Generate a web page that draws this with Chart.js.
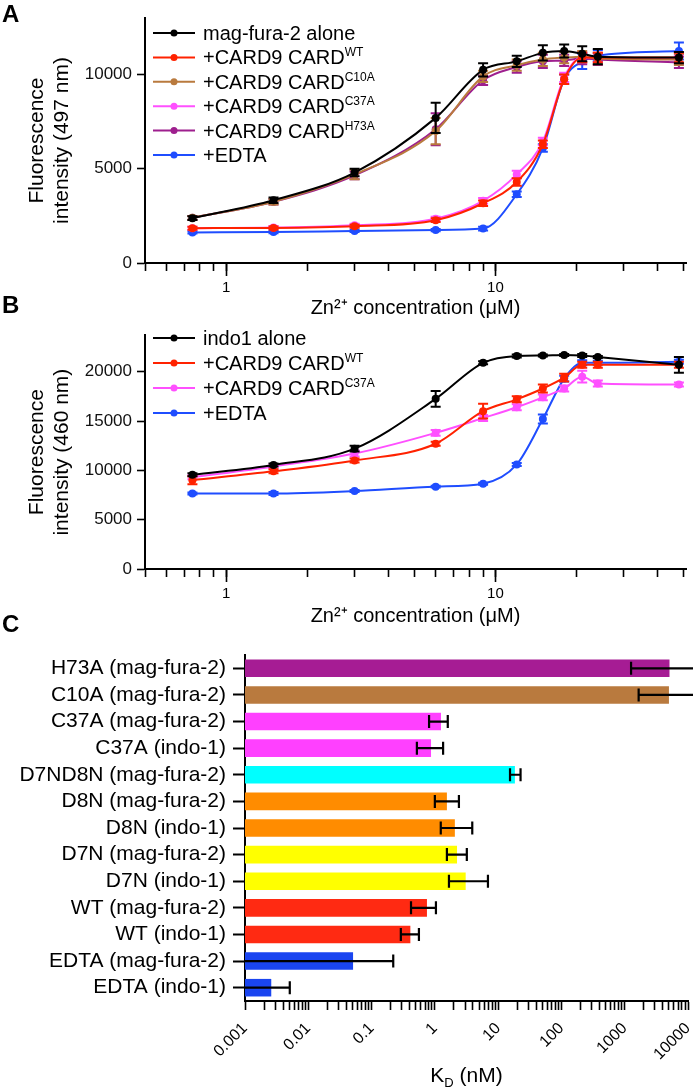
<!DOCTYPE html>
<html>
<head>
<meta charset="utf-8">
<script src="https://cdn.jsdelivr.net/npm/chart.js@4.4.0/dist/chart.umd.min.js"></script>
<style>
  body { margin: 0; background: #fff; width: 693px; height: 1089px; position: relative; overflow: hidden;
         font-family: "Liberation Sans", Arial, Helvetica, sans-serif; }
  canvas { position: absolute; left: 0; }
  .panel { position: absolute; font-weight: bold; font-size: 24px; line-height: 24px; z-index: 2; }
</style>
</head>
<body>
<div class="panel" style="left:2px; top:2px">A</div>
<div class="panel" style="left:2px; top:293px">B</div>
<div class="panel" style="left:2px; top:612px">C</div>
<canvas id="chartA" width="693" height="320" style="top:0"></canvas>
<canvas id="chartB" width="693" height="308" style="top:320px"></canvas>
<canvas id="chartC" width="693" height="461" style="top:628px"></canvas>
<script>
// Zn2+ concentrations (uM) used in the titrations
const concUM = [0.75, 1.5, 3, 6, 9, 12, 15, 18, 21, 24, 48];

// panel A - mag-fura-2, fluorescence at 497 nm (mean, SD)
const magAlone   = [2380, 3330, 4800, 7700, 10250, 10700, 11150, 11250, 11100, 10950, 10900];
const magAloneSd = [100, 150, 200, 800, 350, 300, 400, 350, 400, 400, 300];
const magWT      = [1850, 1860, 1950, 2270, 3170, 4300, 6300, 9750, 10900, 10900, 10900];
const magWTSd    = [80, 80, 80, 100, 150, 200, 200, 250, 250, 250, 250];
const magC10A    = [2400, 3250, 4700, 7000, 9900, 10500, 10800, 10900, 10950, 10850, 10800];
const magC10ASd  = [100, 150, 250, 700, 300, 300, 350, 300, 300, 300, 300];
const magC37A    = [1850, 1880, 2000, 2350, 3300, 4700, 6450, 9850, 10900, 10900, 10800];
const magC37ASd  = [80, 80, 80, 100, 150, 200, 200, 250, 250, 250, 250];
const magH73A    = [2400, 3250, 4650, 7100, 9700, 10400, 10700, 10750, 10850, 10800, 10650];
const magH73ASd  = [100, 150, 200, 850, 250, 300, 350, 300, 300, 300, 300];
const magEDTA    = [1620, 1640, 1700, 1750, 1830, 3650, 6100, 9750, 10700, 11000, 11250];
const magEDTASd  = [60, 60, 60, 60, 100, 150, 200, 250, 400, 300, 450];

// panel B - indo-1, fluorescence at 460 nm (mean, SD)
const indoAlone   = [9550, 10550, 12200, 17250, 20900, 21600, 21650, 21700, 21650, 21500, 20700];
const indoAloneSd = [150, 150, 300, 800, 150, 150, 100, 100, 150, 100, 800];
const indoWT      = [9000, 9900, 11000, 12700, 16000, 17200, 18300, 19400, 20700, 20700, 20700];
const indoWTSd    = [400, 200, 200, 200, 750, 300, 400, 400, 300, 300, 300];
const indoC37A    = [9300, 10400, 11700, 13800, 15300, 16400, 17400, 18300, 19500, 18800, 18700];
const indoC37ASd  = [200, 200, 300, 300, 300, 300, 300, 300, 600, 300, 200];
const indoEDTA    = [7650, 7650, 7900, 8350, 8650, 10600, 15200, 19300, 20900, 20900, 21000];
const indoEDTASd  = [100, 150, 100, 100, 100, 150, 450, 300, 250, 200, 200];

const namesA = ['mag-fura-2 alone', '+CARD9 CARD', '+CARD9 CARD', '+CARD9 CARD', '+CARD9 CARD', '+EDTA'];
const supsA  = ['', 'WT', 'C10A', 'C37A', 'H73A', ''];
const namesB = ['indo1 alone', '+CARD9 CARD', '+CARD9 CARD', '+EDTA'];
const supsB  = ['', 'WT', 'C37A', ''];

// axis ticks for A and B
const xTicksAB  = [0.5, 0.6, 0.7, 0.8, 0.9, 1, 2, 3, 4, 5, 6, 7, 8, 9, 10, 20, 30, 40, 50];
const xLabelsAB = [1, 10];
const yTicksA   = [0, 5000, 10000];
const yTicksB   = [0, 5000, 10000, 15000, 20000];

// panel C - KD (nM) with lower / upper error limits (null = runs off the axis)
const kdLabels = ['H73A (mag-fura-2)', 'C10A (mag-fura-2)', 'C37A (mag-fura-2)', 'C37A (indo-1)',
                  'D7ND8N (mag-fura-2)', 'D8N (mag-fura-2)', 'D8N (indo-1)', 'D7N (mag-fura-2)',
                  'D7N (indo-1)', 'WT (mag-fura-2)', 'WT (indo-1)', 'EDTA (mag-fura-2)', 'EDTA (indo-1)'];
const kdValues = [5100, 5000, 1.25, 0.87, 18.4, 1.55, 2.07, 2.24, 3.07, 0.75, 0.41, 0.051, 0.0026];
const kdLow    = [1260, 1660, 0.81, 0.52, 15.4, 1.0, 1.24, 1.55, 1.67, 0.42, 0.29, null, null];
const kdHigh   = [20000, 20000, 1.6, 1.35, 22.6, 2.4, 3.9, 3.2, 6.9, 1.04, 0.56, 0.22, 0.0051];
const kdDecades = [0.001, 0.01, 0.1, 1, 10, 100, 1000, 10000];

const FONT = '"Liberation Sans", Arial, Helvetica, sans-serif';
Chart.defaults.font.family = FONT;
Chart.defaults.color = '#000';

const colA = ['#000000', '#FF2200', '#B97A3E', '#FF50FF', '#9E1F8E', '#1F4DFF'];
const colB = ['#000000', '#FF2200', '#FF50FF', '#1F4DFF'];
const kdColors = ['#A61C94', '#B97A3E', '#FF40FF', '#FF40FF', '#00FFFF', '#FF8C00', '#FF8C00',
                  '#FFFF00', '#FFFF00', '#FF2A12', '#FF2A12', '#1A45F0', '#1A45F0'];

function lineSet(name, sup, values, sd, color) {
  return {
    label: name + sup, name: name, sup: sup, sd: sd,
    data: concUM.map((c, i) => ({ x: c, y: values[i] })),
    borderColor: color, backgroundColor: color,
    borderWidth: 2, pointRadius: 4, pointBorderWidth: 0,
    cubicInterpolationMode: 'monotone', fill: false
  };
}

function drawRich(ctx, parts, x, y) {
  parts.forEach(p => {
    ctx.font = p.size + 'px ' + FONT;
    ctx.fillText(p.t, x, y + (p.dy || 0));
    x += ctx.measureText(p.t).width;
  });
  return x;
}

// vertical SD bars, drawn right after each dataset so layering follows the datasets
const errorBars = {
  id: 'errorBars',
  afterDatasetDraw(chart, args) {
    const ds = chart.data.datasets[args.index];
    if (!ds.sd) return;
    const ctx = chart.ctx, ys = chart.scales.y;
    ctx.save();
    ctx.strokeStyle = ds.borderColor;
    ctx.lineWidth = 2;
    args.meta.data.forEach((pt, i) => {
      const v = ds.data[i].y, e = ds.sd[i];
      const t = ys.getPixelForValue(v + e), b = ys.getPixelForValue(v - e);
      ctx.beginPath();
      ctx.moveTo(pt.x, t); ctx.lineTo(pt.x, b);
      ctx.moveTo(pt.x - 5, t); ctx.lineTo(pt.x + 5, t);
      ctx.moveTo(pt.x - 5, b); ctx.lineTo(pt.x + 5, b);
      ctx.stroke();
    });
    ctx.restore();
  },
  // longer marks at the labelled decades
  afterDraw(chart) {
    const ctx = chart.ctx, xs = chart.scales.x;
    ctx.save();
    ctx.strokeStyle = '#000';
    ctx.lineWidth = 1.6;
    xLabelsAB.forEach(v => {
      const x = Math.round(xs.getPixelForValue(v)) + 0.5;
      ctx.beginPath();
      ctx.moveTo(x, xs.top); ctx.lineTo(x, xs.top + 13);
      ctx.stroke();
    });
    ctx.restore();
  }
};

// legend with superscripts
const richLegend = {
  id: 'richLegend',
  afterDraw(chart, args, opts) {
    const ctx = chart.ctx;
    ctx.save();
    chart.data.datasets.forEach((ds, i) => {
      const y = opts.y + i * opts.step;
      ctx.strokeStyle = ds.borderColor;
      ctx.fillStyle = ds.borderColor;
      ctx.lineWidth = 2;
      ctx.beginPath();
      ctx.moveTo(opts.x, y); ctx.lineTo(opts.x + 42, y);
      ctx.stroke();
      ctx.beginPath();
      ctx.arc(opts.x + 21, y, 3.5, 0, Math.PI * 2);
      ctx.fill();
      ctx.fillStyle = '#000';
      ctx.textBaseline = 'alphabetic';
      const parts = [{ t: ds.name, size: 20 }];
      if (ds.sup) parts.push({ t: ds.sup, size: 12, dy: -8 });
      drawRich(ctx, parts, opts.x + 50, y + 7);
    });
    ctx.restore();
  }
};

function logAxisAB(height) {
  return {
    type: 'logarithmic', min: 0.5, max: 51,
    afterBuildTicks: s => { s.ticks = xTicksAB.map(v => ({ value: v })); },
    afterFit: s => { s.height = height; },
    grid: { drawOnChartArea: false, tickLength: 8, tickColor: '#000', tickWidth: 1.6 },
    border: { color: '#000', width: 2 },
    ticks: { autoSkip: false, maxRotation: 0, padding: 8, font: { size: 15 },
             callback: v => xLabelsAB.includes(v) ? String(v) : '' },
    title: { display: true, text: 'Zn²⁺ concentration (μM)', font: { size: 20 }, padding: { top: 0, bottom: 0 } }
  };
}

function linAxis(ticks, max, title) {
  return {
    min: 0, max: max,
    afterBuildTicks: s => { s.ticks = ticks.map(v => ({ value: v })); },
    afterFit: s => { s.width = 145; },
    grid: { drawOnChartArea: false, tickLength: 8, tickColor: '#000', tickWidth: 1.6 },
    border: { color: '#000', width: 2 },
    ticks: { padding: 5, font: { size: 17 }, color: '#111', callback: v => String(v) },
    title: { display: true, text: title, font: { size: 21 }, padding: { top: 24.4, bottom: 0 } }
  };
}

const sdA = [magAloneSd, magWTSd, magC10ASd, magC37ASd, magH73ASd, magEDTASd];
const valA = [magAlone, magWT, magC10A, magC37A, magH73A, magEDTA];
new Chart(document.getElementById('chartA'), {
  type: 'line',
  data: { datasets: valA.map((v, i) => lineSet(namesA[i], supsA[i], v, sdA[i], colA[i])) },
  options: {
    responsive: false, animation: false,
    layout: { padding: { top: 18, right: 7, bottom: 0, left: 0 } },
    plugins: { legend: { display: false }, tooltip: { enabled: false },
               richLegend: { x: 153, y: 33, step: 24.4 } },
    scales: {
      x: logAxisAB(57),
      y: linAxis(yTicksA, 13000, ['Fluorescence', 'intensity (497 nm)'])
    }
  },
  plugins: [errorBars, richLegend]
});

const sdB = [indoAloneSd, indoWTSd, indoC37ASd, indoEDTASd];
const valB = [indoAlone, indoWT, indoC37A, indoEDTA];
new Chart(document.getElementById('chartB'), {
  type: 'line',
  data: { datasets: valB.map((v, i) => lineSet(namesB[i], supsB[i], v, sdB[i], colB[i])) },
  options: {
    responsive: false, animation: false,
    layout: { padding: { top: 7, right: 7, bottom: 0, left: 0 } },
    plugins: { legend: { display: false }, tooltip: { enabled: false },
               richLegend: { x: 153, y: 18, step: 25 } },
    scales: {
      x: logAxisAB(59),
      y: linAxis(yTicksB, 23700, ['Fluorescence', 'intensity (460 nm)'])
    }
  },
  plugins: [errorBars, richLegend]
});

// horizontal error bars for the KD chart
const kdErrorBars = {
  id: 'kdErrorBars',
  afterDatasetsDraw(chart) {
    const ctx = chart.ctx, xs = chart.scales.x, area = chart.chartArea;
    ctx.save();
    ctx.strokeStyle = '#000';
    ctx.lineWidth = 2.2;
    chart.getDatasetMeta(0).data.forEach((bar, i) => {
      const y = bar.y;
      const lo = kdLow[i] == null ? area.left : xs.getPixelForValue(kdLow[i]);
      const hiRaw = xs.getPixelForValue(kdHigh[i]);
      const hi = Math.min(hiRaw, area.right + 5);
      ctx.beginPath();
      ctx.moveTo(lo, y); ctx.lineTo(hi, y);
      if (kdLow[i] != null) { ctx.moveTo(lo, y - 6.5); ctx.lineTo(lo, y + 6.5); }
      if (hiRaw <= area.right) { ctx.moveTo(hi, y - 6.5); ctx.lineTo(hi, y + 6.5); }
      ctx.stroke();
    });
    ctx.restore();
  }
};

const kdTitle = {
  id: 'kdTitle',
  afterDraw(chart) {
    const ctx = chart.ctx, area = chart.chartArea;
    const parts = [{ t: 'K', size: 21 }, { t: 'D', size: 13, dy: 5 }, { t: ' (nM)', size: 21 }];
    let w = 0;
    parts.forEach(p => { ctx.font = p.size + 'px ' + FONT; w += ctx.measureText(p.t).width; });
    ctx.save();
    ctx.fillStyle = '#000';
    ctx.textBaseline = 'alphabetic';
    drawRich(ctx, parts, (area.left + area.right) / 2 - w / 2, 454);
    ctx.restore();
  }
};

const kdTicks = [];
kdDecades.forEach((d, i) => {
  for (let k = 1; k <= 9; k++) {
    if (i === kdDecades.length - 1 && k > 1) break;
    kdTicks.push(+(d * k).toPrecision(3));
  }
});

new Chart(document.getElementById('chartC'), {
  type: 'bar',
  data: {
    labels: kdLabels,
    datasets: [{ data: kdValues, backgroundColor: kdColors, barPercentage: 0.66, categoryPercentage: 1 }]
  },
  options: {
    indexAxis: 'y', responsive: false, animation: false,
    layout: { padding: { top: 27, right: 5, bottom: 0, left: 0 } },
    plugins: { legend: { display: false }, tooltip: { enabled: false } },
    scales: {
      x: {
        type: 'logarithmic', min: 0.001, max: 10000,
        afterBuildTicks: s => { s.ticks = kdTicks.map(v => ({ value: v })); },
        afterFit: s => { s.height = 88; s.paddingRight = 0; },
        grid: { drawOnChartArea: false, tickLength: 9, tickColor: '#000', tickWidth: 1.6 },
        border: { color: '#000', width: 2 },
        ticks: { autoSkip: false, minRotation: 45, maxRotation: 45, padding: 9, font: { size: 16 },
                 callback: v => kdDecades.includes(v) ? String(v) : '' }
      },
      y: {
        afterFit: s => { s.width = 245; },
        grid: { drawOnChartArea: false, offset: false, tickLength: 12, tickColor: '#000', tickWidth: 2 },
        border: { color: '#000', width: 2 },
        ticks: { autoSkip: false, padding: 7, font: { size: 21 }, color: '#000' }
      }
    }
  },
  plugins: [kdErrorBars, kdTitle]
});
</script>
</body>
</html>
